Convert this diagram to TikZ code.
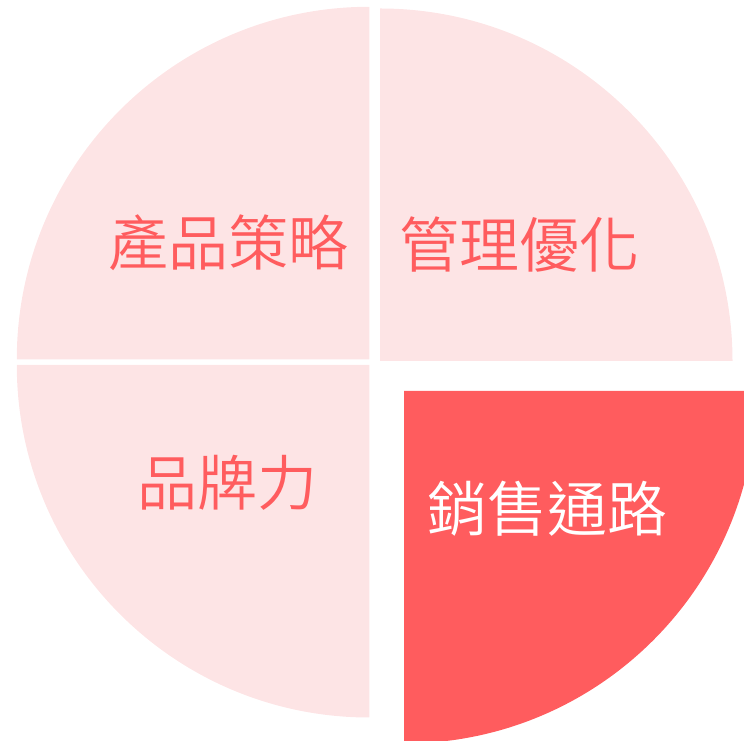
\documentclass[tikz,border=0pt]{standalone}
\usepackage{fontspec}
\newfontfamily\cjk{Noto Sans CJK TC}[UprightFont={* DemiLight}]
\definecolor{pinkfill}{HTML}{FDE4E5}
\definecolor{redfill}{HTML}{FF5C5E}
\begin{document}
\begin{tikzpicture}[x=1pt,y=1pt,
  slice/.style={fill=pinkfill},
  hotslice/.style={fill=redfill},
  lbl/.style={font=\cjk\fontsize{60}{66}\selectfont, text=redfill, inner sep=0pt},
  hotlbl/.style={font=\cjk\fontsize{60}{66}\selectfont, text=white, inner sep=0pt}]
\useasboundingbox (0,0) rectangle (744,741);
\begin{scope}
\clip (0,0) rectangle (744,741);
\def\R{352.5}
\fill[slice] (369.3,381.7) -- ++(90:\R) arc (90:180:\R) -- cycle;
\fill[slice] (380,380) -- ++(0:\R) arc (0:90:\R) -- cycle;
\fill[slice] (369.3,376) -- ++(180:\R) arc (180:270:\R) -- cycle;
\fill[hotslice] (404,350) -- ++(270:\R) arc (270:360:\R) -- cycle;
\end{scope}
\node[lbl] (prod) at (228,498) {產品策略};
\node[lbl] (mgmt) at (519,496) {管理優化};
\node[lbl] (brand) at (227,258) {品牌力};
\node[hotlbl] (sales) at (547,232) {銷售通路};
\end{tikzpicture}
\end{document}
